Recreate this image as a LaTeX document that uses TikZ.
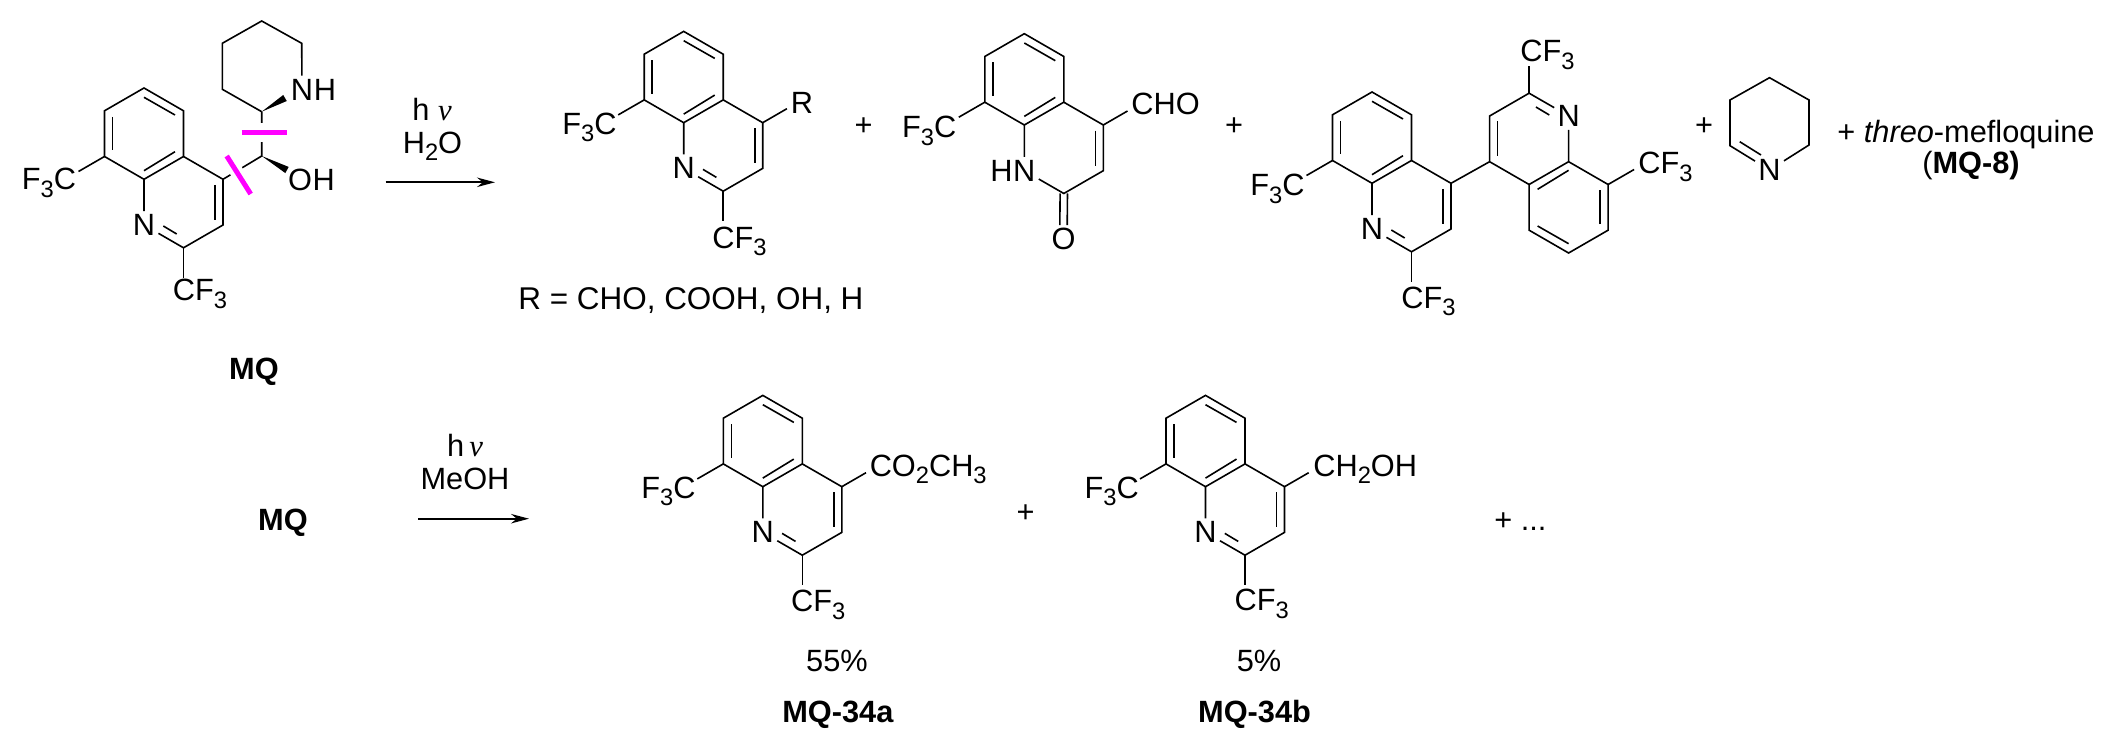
\documentclass[tikz,border=0pt]{standalone}
\usepackage{fontspec}
\setmainfont{Liberation Sans}
\newfontfamily\nufont{Liberation Serif}
\usetikzlibrary{calc,arrows.meta,positioning}
\definecolor{cutcolor}{RGB}{255,0,255}
\tikzset{
	every node/.style={font=\fontsize{17.5}{20}\selectfont},
	bond/.style={line width=0.032cm},
	atom/.style={inner sep=0.06cm},
	hatom/.style={inner sep=0},
	lbl/.style={inner sep=0, anchor=base west},
	midlbl/.style={inner sep=0, anchor=base},
	cutbar/.style={draw=cutcolor, line width=0.1cm, preaction={draw=white, line width=#1}},
	rxnarrow/.style={bond, -{Stealth[length=0.36cm,width=0.19cm]}}
}
\def\lowsub#1{\raisebox{-0.24em}{\fontsize{13.5}{15}\selectfont #1}}
\def\hnu{h {\nufont\itshape ν}}
\def\wedgebond(#1)(#2){\fill (#1) -- ($(#2)!0.07cm!90:(#1)$) -- ($(#2)!0.07cm!-90:(#1)$) -- cycle;}
\def\quinring[#1](#2)(#3){
	\begin{scope}[shift={(#2)},rotate=#3]
		\coordinate (#1a8) at (0,0);
		\coordinate (#1c8) at (-39.5,-22.8);
		\coordinate (#1c7) at (-39.5,-68.5);
		\coordinate (#1c6) at (0,-91.3);
		\coordinate (#1c5) at (39.5,-68.5);
		\coordinate (#1a4) at (39.5,-22.8);
		\coordinate (#1c4) at (79,0);
		\coordinate (#1c3) at (79,45.7);
		\coordinate (#1c2) at (39.5,68.5);
		\coordinate (#1t8) at (-65.5,-7.8);
		\coordinate (#1t2) at (39.5,98.5);
		\coordinate (#1t4) at (103.2,-14);
		\coordinate (#1i1) at (19.3,46.7);
		\coordinate (#1i2) at (32.7,54.7);
		\node[atom] (#1n) at (0,45.7) {N};
		\draw[bond] (#1a8) -- (#1c8) -- (#1c7) -- (#1c6) -- (#1c5) -- (#1a4) -- cycle;
		\draw[bond] (#1a4) -- (#1c4) -- (#1c3) -- (#1c2) -- (#1n) -- (#1a8);
		\draw[bond] (-31.5,-62.5) -- (-31.5,-28.8);
		\draw[bond] (0,-82) -- (31,-64.3);
		\draw[bond] (0,-8.6) -- (31,-27.6);
		\draw[bond] (71,5.7) -- (71,40.7);
		\draw[bond] (#1c8) -- (#1t8);
	\end{scope}
}

\begin{document}
\begin{tikzpicture}[x=0.02cm,y=-0.02cm]
	\useasboundingbox (0,0) rectangle (2116,746);
	%%%%% TOP ROW %%%%%

	\quinring[qa](144,179.3)(0);
	\draw[bond] (qai1) -- (qai2);
	\draw[bond] (qac2) -- (qat2);
	\node[lbl] (qaf) at (21.5,190) {F\lowsub{3}C};
	\node[lbl] (qacf) at (172.5,301) {CF\lowsub{3}};

	\coordinate (pipa) at (261.7,111.7);
	\coordinate (pipb) at (222.3,89.3);
	\coordinate (pipc) at (222.3,43.3);
	\coordinate (pipd) at (261.7,21);
	\coordinate (pipe) at (301.7,43.3);
	\coordinate (pipw) at (285,98);
	\coordinate (carb) at (261.7,156);
	\coordinate (carw) at (287,170);
	\node[atom] (pipn) at (302,89.5) {N};
	\node[hatom, right=-0.06cm of pipn] (piph) {H};
	\node[atom] (oho) at (300,179.5) {O};
	\node[hatom, right=-0.06cm of oho] (ohh) {H};
	\draw[bond] (pipa) -- (pipb) -- (pipc) -- (pipd) -- (pipe) -- (pipn);
	\draw[bond] (pipa) -- (carb) -- (qac4);
	\wedgebond(pipa)(pipw)
	\wedgebond(carb)(carw)

	\coordinate (cuta) at (241.7,132.7);
	\coordinate (cutb) at (286.7,132.7);
	\coordinate (cutc) at (226.7,156);
	\coordinate (cutd) at (250.7,194);
	\draw[cutbar=0.38cm] (cuta) -- (cutb);
	\draw[cutbar=0.27cm] (cutc) -- (cutd);

	\node[midlbl] (mqa) at (254,379) {\textbf{MQ}};

	\coordinate (arra) at (385.7,182.3);
	\coordinate (arrb) at (495,182.3);
	\draw[rxnarrow] (arra) -- (arrb);
	\node[midlbl] (hnua) at (432,120.7) {\hnu};
	\node[midlbl] (watera) at (432.5,153.3) {H\lowsub{2}O};

	\quinring[qb](683.7,122.7)(0);
	\draw[bond] (qbi1) -- (qbi2);
	\draw[bond] (qbc2) -- (qbt2);
	\draw[bond] (qbc4) -- (qbt4);
	\node[lbl] (qbf) at (562,134.3) {F\lowsub{3}C};
	\node[lbl] (qbcf) at (712,248.3) {CF\lowsub{3}};
	\node[lbl] (qbr) at (790.5,113.3) {R};
	\node[lbl,font=\fontsize{17.9}{20}\selectfont] (rlist) at (518,310) {R = CHO, COOH, OH, H};
	\node (plusa) at (863.6,126.7) {+};

	\quinring[qc](1024.3,125)(0);
	\node[hatom, left=-0.06cm of qcn] (qch) {H};
	\node[atom] (qco) at (1063.5,239.3) {O};
	\draw[bond] ([xshift=-2.1pt]qcc2) -- ([xshift=-2.1pt]qco.north);
	\draw[bond] ([xshift=2.1pt]qcc2) -- ([xshift=2.1pt]qco.north);
	\draw[bond] (qcc4) -- (qct4);
	\node[lbl] (qcf) at (901.8,137.7) {F\lowsub{3}C};
	\node[lbl] (qccho) at (1131,115) {CHO};
	\node (plusb) at (1234,126.7) {+};

	\quinring[qd](1372,183.3)(0);
	\draw[bond] (qdi1) -- (qdi2);
	\draw[bond] (qdc2) -- (qdt2);
	\node[lbl] (qdf) at (1250,196) {F\lowsub{3}C};
	\node[lbl] (qdcf) at (1401,308.3) {CF\lowsub{3}};

	\quinring[qe](1568.6,161.7)(180);
	\draw[bond] (qei1) -- (qei2);
	\draw[bond,shorten >=0.06cm] (qec2) -- (qet2);
	\draw[bond] (qdc4) -- (qec4);
	\node[lbl] (qecf) at (1520,61.7) {CF\lowsub{3}};
	\node[lbl] (qefr) at (1638,174) {CF\lowsub{3}};
	\node (plusc) at (1704,126.7) {+};

	\coordinate (imb) at (1769.5,77.7);
	\coordinate (imc) at (1809,100);
	\coordinate (imd) at (1809,145);
	\coordinate (ime) at (1730,145.7);
	\coordinate (imf) at (1730,100);
	\coordinate (imi) at (1739.7,141.7);
	\coordinate (imj) at (1761,155);
	\node[atom] (imn) at (1769.5,170) {N};
	\draw[bond] (imn) -- (imd) -- (imc) -- (imb) -- (imf) -- (ime) -- (imn);
	\draw[bond] (imi) -- (imj);

	\node[lbl] (threo) at (1837,142.7) {+ \textit{threo}-mefloquine};
	\node[midlbl] (mqe) at (1971,174) {(\textbf{MQ-8)}};

	%%%%% BOTTOM ROW %%%%%

	\node[midlbl] (mqb) at (283,530) {\textbf{MQ}};
	\coordinate (arrc) at (418.4,518.7);
	\coordinate (arrd) at (529,518.7);
	\draw[rxnarrow] (arrc) -- (arrd);
	\node[midlbl] (hnub) at (465,456.7) {h\,{\nufont\itshape ν}};
	\node[midlbl] (meoh) at (465,489) {MeOH};

	\quinring[qf](762.8,486.7)(0);
	\draw[bond] (qfi1) -- (qfi2);
	\draw[bond] (qfc2) -- (qft2);
	\draw[bond] (qfc4) -- (qft4);
	\node[lbl] (qff) at (641,498) {F\lowsub{3}C};
	\node[lbl] (qfcf) at (790.8,611.7) {CF\lowsub{3}};
	\node[lbl] (qfest) at (869.4,476) {CO\lowsub{2}CH\lowsub{3}};
	\node[midlbl] (yielda) at (837,671.7) {55\%};
	\node[midlbl] (mqc) at (838,722.7) {\textbf{MQ-34a}};
	\node (plusd) at (1025.6,513.3) {+};

	\quinring[qg](1205.5,486.7)(0);
	\draw[bond] (qgi1) -- (qgi2);
	\draw[bond] (qgc2) -- (qgt2);
	\draw[bond] (qgc4) -- (qgt4);
	\node[lbl] (qgf) at (1084.2,498.3) {F\lowsub{3}C};
	\node[lbl] (qgcf) at (1234.2,610.7) {CF\lowsub{3}};
	\node[lbl] (qgalc) at (1313,476) {CH\lowsub{2}OH};
	\node[midlbl] (yieldb) at (1259,671.7) {5\%};
	\node[midlbl] (mqd) at (1254.5,722.7) {\textbf{MQ-34b}};

	\node[lbl] (etc) at (1494,530) {+ ...};
\end{tikzpicture}
\end{document}
